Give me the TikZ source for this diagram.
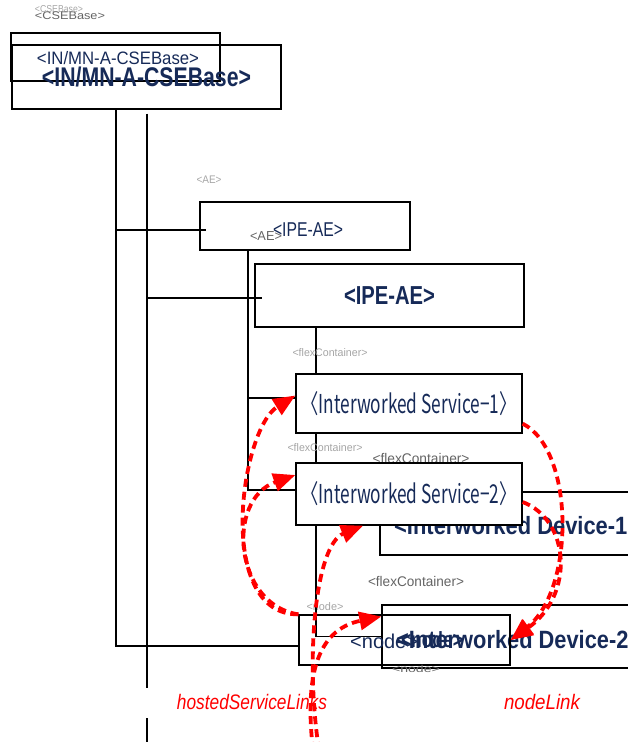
\documentclass[tikz,border=0pt]{standalone}
\usepackage{fontspec}
\setmainfont{Liberation Sans}
\newfontfamily\krfont{Noto Sans CJK KR}
\usetikzlibrary{arrows.meta,calc,backgrounds}
\definecolor{navy}{RGB}{22,42,88}
\definecolor{lgray}{RGB}{165,165,165}
\definecolor{dgray}{RGB}{100,100,100}
\newcommand{\fitw}[2]{\resizebox{#1}{\height}{#2}}
\begin{document}
\begin{tikzpicture}[x=1pt,y=-1pt,
  box/.style={draw=black, line width=1.3pt, rectangle, inner sep=0pt},
  conn/.style={draw=black, line width=1.3pt},
  txt/.style={inner sep=0pt, text=navy},
  lbl/.style={inner sep=0pt, text=lgray},
  dlbl/.style={inner sep=0pt, text=dgray},
  link/.style={red, line width=3.8pt, dash pattern=on 8pt off 5pt, -{Triangle[length=22pt,width=18pt]}},
  linkname/.style={inner sep=0pt, text=red, font=\itshape\fontsize{21}{21}\selectfont}
]
\useasboundingbox (0,0) rectangle (628,742);
\clip (0,0) rectangle (628,742);

% helper coordinates
\coordinate (v1) at (116,0);
\coordinate (v2) at (147,0);
\coordinate (v3) at (248,0);
\coordinate (v4) at (316,0);
\coordinate (h230) at (0,230);
\coordinate (h298) at (0,298);
\coordinate (h398) at (0,398);
\coordinate (h490) at (0,490);
\coordinate (h646) at (0,646);

% boxes (no fill)
\node[box, minimum width=209pt, minimum height=48pt] (csesmall) at (115.5,57) {};
\node[box, minimum width=269pt, minimum height=64pt, text=navy, font=\bfseries\fontsize{27}{27}\selectfont] (csebig) at (146.5,77) {\fitw{209pt}{<IN/MN-A-CSEBase>}};
\node[txt, font=\fontsize{18}{18}\selectfont] (csesmalltxt) at (118,58) {\fitw{162pt}{<IN/MN-A-CSEBase>}};
\node[lbl, font=\fontsize{10}{10}\selectfont] (cselbl1) at (59,9) {\fitw{48pt}{<CSEBase>}};
\node[dlbl, font=\fontsize{11}{11}\selectfont] (cselbl2) at (70,16) {\fitw{70pt}{<CSEBase>}};

\node[lbl, font=\fontsize{11}{11}\selectfont] (aelbl1) at (209,180) {\fitw{25pt}{<AE>}};
\node[box, minimum width=210pt, minimum height=48pt] (aesmall) at (305,226) {};
\node[txt, font=\fontsize{20}{20}\selectfont] (aesmalltxt) at (308,230) {\fitw{70pt}{<IPE-AE>}};
\node[dlbl, font=\fontsize{13}{13}\selectfont] (aelbl2) at (266,236) {\fitw{32pt}{<AE>}};
\node[box, minimum width=269pt, minimum height=63pt, text=navy, font=\bfseries\fontsize{26}{26}\selectfont] (aebig) at (389.5,295.5) {\fitw{91pt}{<IPE-AE>}};

% labels above services
\node[lbl, font=\fontsize{11}{11}\selectfont] (fl1) at (330,353) {\fitw{75pt}{<flexContainer>}};
\node[lbl, font=\fontsize{11}{11}\selectfont] (fl2) at (325,448) {\fitw{75pt}{<flexContainer>}};
\node[dlbl, font=\fontsize{14}{14}\selectfont] (fl3) at (421,458) {\fitw{97pt}{<flexContainer>}};
\node[dlbl, font=\fontsize{14}{14}\selectfont] (fl4) at (416,581) {\fitw{96pt}{<flexContainer>}};

% services and devices
\node[box, fill=white, minimum width=226pt, minimum height=59pt, text=navy, font=\krfont\fontsize{26}{26}\selectfont] (svc1) at (409,403.5) {\fitw{215pt}{〈Interworked Service−1〉}};
\node[box, minimum width=269pt, minimum height=63pt] (dev1) at (514.5,523.5) {};
\node[txt, anchor=west, font=\bfseries\fontsize{25}{25}\selectfont] (dev1txt) at (394,526) {\fitw{246pt}{<Interworked Device-1>}};
\node[box, fill=white, minimum width=226pt, minimum height=62pt, text=navy, font=\krfont\fontsize{26}{26}\selectfont] (svc2) at (409,494) {\fitw{215pt}{〈Interworked Service−2〉}};
\node[box, minimum width=269pt, minimum height=63pt] (dev2) at (516.5,636.5) {};
\node[txt, anchor=west, font=\bfseries\fontsize{25}{25}\selectfont] (dev2txt) at (396,640) {\fitw{245pt}{<Interworked Device-2>}};

% node box
\node[box, minimum width=211pt, minimum height=50pt] (nodeI) at (404.5,640) {};
\node[txt, anchor=west, font=\fontsize{20}{20}\selectfont] (nodetxt) at (350,641) {<node>};
\node[txt, font=\bfseries\fontsize{22}{22}\selectfont] (nodetxt2) at (432,640) {\fitw{62pt}{<node>}};
\node[lbl, font=\fontsize{11}{11}\selectfont] (nodelbl1) at (325,607) {\fitw{37pt}{<node>}};
\node[dlbl, font=\fontsize{10}{10}\selectfont] (nodelbl2) at (416,669) {\fitw{48pt}{<node>}};

% tree connectors (behind the boxes)
\begin{pgfonlayer}{background}
\draw[conn] (csebig.south -| v1) |- (nodeI.west |- h646);
\draw[conn] (v1 |- h230) -- ([xshift=7pt]aesmall.west |- h230);
\draw[conn] ([yshift=-4pt]csebig.south -| v2) -- (147,688);
\draw[conn] (147,718) -- (147,742);
\draw[conn] (v2 |- h298) -- ([xshift=8pt]aebig.west |- h298);
\draw[conn] (aesmall.south -| v3) |- (svc2.west |- h490);
\draw[conn] (v3 |- h398) -- (svc1.west |- h398);
\draw[conn] (aebig.south -| v4) |- (dev2.west);
\end{pgfonlayer}

% link names
\node[linkname] (hsl) at (252,702) {\fitw{150pt}{hostedServiceLinks}};
\node[linkname] (nl) at (542,702) {\fitw{76pt}{nodeLink}};

% red links
\coordinate (hsfrom1) at (319,750);
\coordinate (hsfrom2) at (313,750);
\draw[link] (nodeI.north west) .. controls (215,615) and (240,430) .. ([yshift=8pt]svc1.west);
\draw[link] (nodeI.north west) .. controls (235,605) and (225,500) .. ([yshift=19pt]svc2.west);
\draw[link] (hsfrom1) .. controls (305,660) and (315,545) .. ([xshift=-46pt]svc2.south);
\draw[link] (hsfrom2) .. controls (305,680) and (315,630) .. ([yshift=20pt]dev2.west);
\draw[link] ([yshift=10pt]svc1.south east) .. controls (575,450) and (575,590) .. (nodeI.east);
\draw[link] ([yshift=-8pt]svc2.east) .. controls (570,520) and (575,595) .. (nodeI.east);
\end{tikzpicture}
\end{document}
